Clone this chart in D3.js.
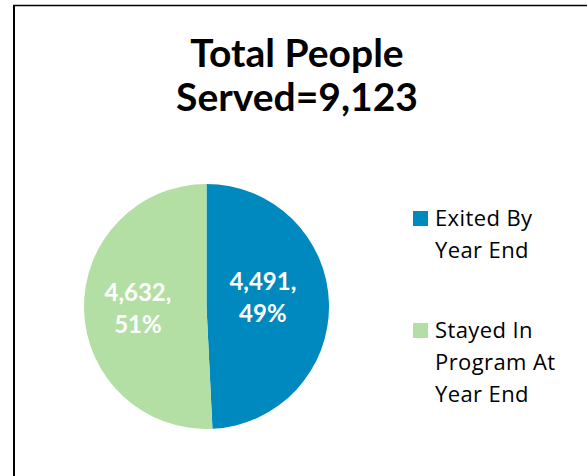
<!DOCTYPE html>
<html>
<head>
  <meta charset="utf-8">
  <script src="https://d3js.org/d3.v7.min.js"></script>
  <style>
    body { margin: 0; background: #fff; }
    text { font-family: Lato, "Open Sans", sans-serif; }
    .legend text { font-family: "Open Sans", Lato, sans-serif; }
  </style>
</head>
<body>
<div id="chart"></div>
<script>
  const width = 587;
  const height = 476;

  const titleLines = ["Total People", "Served=9,123"];
  const categories = ["Exited By Year End", "Stayed In Program At Year End"];
  const legendLines = [["Exited By", "Year End"], ["Stayed In", "Program At", "Year End"]];
  const values = [4491, 4632];
  const percents = ["49%", "51%"];
  const colors = ["#0089bf", "#b3dfa4"];

  const svg = d3.select("#chart").append("svg")
    .attr("width", width)
    .attr("height", height);

  // chart area border (left + top only, as in the original crop)
  svg.append("line").attr("x1", 14).attr("y1", 5).attr("x2", 14).attr("y2", height).attr("stroke", "#000").attr("stroke-width", 2);
  svg.append("line").attr("x1", 13).attr("y1", 5.5).attr("x2", width).attr("y2", 5.5).attr("stroke", "#000").attr("stroke-width", 1.5);

  svg.append("g")
    .selectAll("text")
    .data(titleLines)
    .enter().append("text")
    .attr("x", 297)
    .attr("y", (d, i) => 67 + i * 44)
    .attr("text-anchor", "middle")
    .attr("font-size", 39)
    .attr("font-weight", "bold")
    .attr("fill", "#000")
    .text(d => d);

  const cx = 206.5, cy = 306.5, r = 122.5;
  const pie = d3.pie().sort(null).value(d => d);
  const arc = d3.arc().innerRadius(0).outerRadius(r);
  // excel places the two data labels slightly differently
  const labelPos = [{k: 0.46, dy: 0}, {k: 0.56, dy: 8}];

  const g = svg.append("g").attr("transform", `translate(${cx},${cy})`);
  const arcs = pie(values);

  g.selectAll("path")
    .data(arcs)
    .enter().append("path")
    .attr("d", arc)
    .attr("fill", (d, i) => colors[i]);

  const labels = g.selectAll("text.lbl")
    .data(arcs)
    .enter().append("text")
    .attr("class", "lbl")
    .attr("text-anchor", "middle")
    .attr("fill", "#fff")
    .attr("font-size", 24)
    .attr("font-weight", "bold")
    .attr("transform", (d, i) => {
      const rr = r * labelPos[i].k;
      const [x, y] = d3.arc().innerRadius(rr).outerRadius(rr).centroid(d);
      return `translate(${x},${y + labelPos[i].dy})`;
    });
  labels.append("tspan").attr("x", 0).attr("y", -15).text(d => d3.format(",")(d.data) + ",");
  labels.append("tspan").attr("x", 0).attr("y", 17).text((d, i) => percents[i]);

  const legend = svg.append("g")
    .attr("class", "legend")
    .selectAll("g")
    .data(categories)
    .enter().append("g")
    .attr("transform", (d, i) => `translate(413,${211 + i * 112})`);

  legend.append("rect")
    .attr("width", 15)
    .attr("height", 15)
    .attr("fill", (d, i) => colors[i]);

  legend.each(function(d, i) {
    const t = d3.select(this).append("text")
      .attr("font-size", 22)
      .attr("letter-spacing", 0.4)
      .attr("fill", "#000");
    t.selectAll("tspan")
      .data(legendLines[i])
      .enter().append("tspan")
      .attr("x", 22)
      .attr("y", (l, j) => 15 + j * 32)
      .text(l => l);
  });
</script>
</body>
</html>
